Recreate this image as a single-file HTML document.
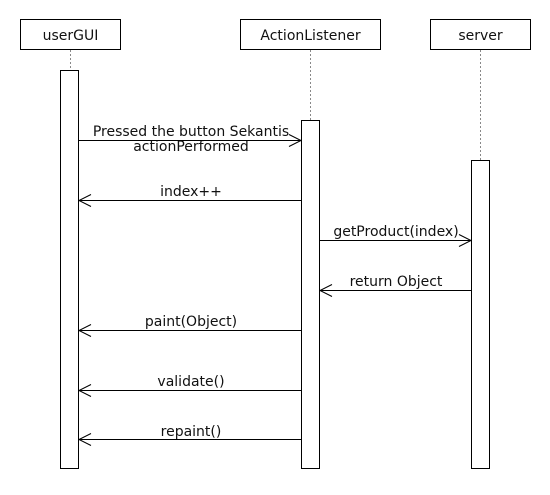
<!DOCTYPE html>
<html><head><style>body{margin:0;background:#fff}</style></head><body>
<svg width="550" height="490" xmlns="http://www.w3.org/2000/svg" font-family="DejaVu Sans, sans-serif" font-size="14" fill="#111">
<rect width="550" height="490" fill="#fff"/>
<g stroke="#888" stroke-dasharray="2,2" stroke-width="1">
<line x1="70.5" y1="50" x2="70.5" y2="70"/>
<line x1="310.5" y1="50" x2="310.5" y2="120"/>
<line x1="480.5" y1="50" x2="480.5" y2="160"/>
</g>
<g fill="#fff" stroke="#000" stroke-width="1">
<rect x="20.5" y="19.5" width="100" height="30"/>
<rect x="240.5" y="19.5" width="140" height="30"/>
<rect x="430.5" y="19.5" width="100" height="30"/>
<rect x="60.5" y="70.5" width="18" height="398"/>
<rect x="301.5" y="120.5" width="18" height="348"/>
<rect x="471.5" y="160.5" width="18" height="308"/>
</g>
<g text-anchor="middle">
<text x="70.5" y="40">userGUI</text>
<text x="310.5" y="40">ActionListener</text>
<text x="480.5" y="40">server</text>
<text x="191" y="136">Pressed the button Sekantis</text>
<text x="191" y="151">actionPerformed</text>
<text x="191" y="196">index++</text>
<text x="396" y="236">getProduct(index)</text>
<text x="396" y="286">return Object</text>
<text x="191" y="326">paint(Object)</text>
<text x="191" y="386">validate()</text>
<text x="191" y="436">repaint()</text>
</g>
<g stroke="#000" stroke-width="1" fill="none">
<line x1="79" y1="140.5" x2="301" y2="140.5"/><polyline points="289,134.5 301,140.5 289,146.5"/>
<line x1="79" y1="200.5" x2="301" y2="200.5"/><polyline points="91,194.5 79,200.5 91,206.5"/>
<line x1="320" y1="240.5" x2="471" y2="240.5"/><polyline points="459,234.5 471,240.5 459,246.5"/>
<line x1="320" y1="290.5" x2="471" y2="290.5"/><polyline points="332,284.5 320,290.5 332,296.5"/>
<line x1="79" y1="330.5" x2="301" y2="330.5"/><polyline points="91,324.5 79,330.5 91,336.5"/>
<line x1="79" y1="390.5" x2="301" y2="390.5"/><polyline points="91,384.5 79,390.5 91,396.5"/>
<line x1="79" y1="439.5" x2="301" y2="439.5"/><polyline points="91,433.5 79,439.5 91,445.5"/>
</g>
</svg>
</body></html>
